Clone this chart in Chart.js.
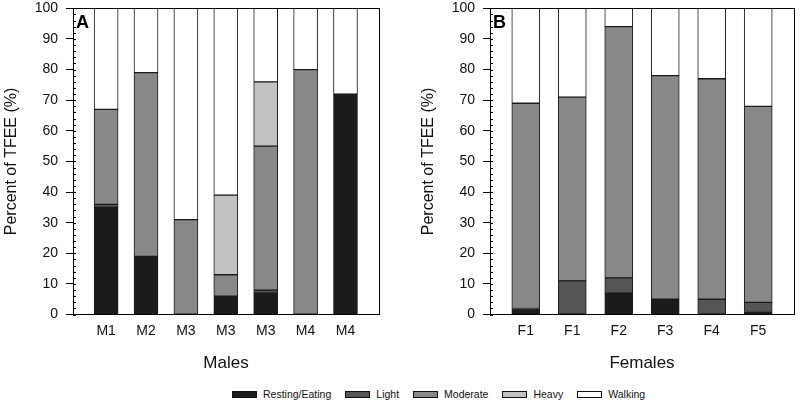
<!DOCTYPE html>
<html>
<head>
<meta charset="utf-8">
<script src="https://cdn.jsdelivr.net/npm/chart.js@4.4.1/dist/chart.umd.min.js"></script>
<style>
  html, body { margin: 0; padding: 0; background: #fff; }
  #wrap { position: relative; width: 800px; height: 402px; overflow: hidden; font-family: "Liberation Sans", Arial, sans-serif; }
  .cv { position: absolute; top: 0; }
  #legend { position: absolute; top: 388px; left: 232px; display: flex; align-items: center; font-size: 10.5px; color: #111; white-space: nowrap; }
  #legend .item { display: flex; align-items: center; margin-right: 14px; }
  #legend .box { width: 23px; height: 5px; border: 1px solid #111; margin-right: 6px; }
</style>
</head>
<body>
<div id="wrap">
  <canvas id="chartA" class="cv" width="400" height="380" style="left:0px"></canvas>
  <canvas id="chartB" class="cv" width="383" height="380" style="left:417px"></canvas>
  <div id="legend"></div>
</div>
<script>
// ---- data ----
const seriesNames = ["Resting/Eating", "Light", "Moderate", "Heavy", "Walking"];
const seriesColors = ["#1b1b1b", "#555555", "#888888", "#c2c2c2", "#ffffff"];

const maleCategories = ["M1", "M2", "M3", "M3", "M3", "M4", "M4"];
const maleResting  = [35, 19, 0, 6, 7, 0, 72];
const maleLight    = [1, 0, 0, 0, 1, 0, 0];
const maleModerate = [31, 60, 31, 7, 47, 80, 0];
const maleHeavy    = [0, 0, 0, 26, 21, 0, 0];
const maleWalking  = [33, 21, 69, 61, 24, 20, 28];

const femaleCategories = ["F1", "F1", "F2", "F3", "F4", "F5"];
const femaleResting  = [2, 0, 7, 5, 0, 1];
const femaleLight    = [0, 11, 5, 0, 5, 3];
const femaleModerate = [67, 60, 82, 73, 72, 64];
const femaleHeavy    = [0, 0, 0, 0, 0, 0];
const femaleWalking  = [31, 29, 6, 22, 23, 32];

const yTicks = [0, 10, 20, 30, 40, 50, 60, 70, 80, 90, 100];

// ---- helpers ----
const FONT = "'Liberation Sans', Arial, sans-serif";
const TXT = "#111";

const panelPlugin = {
  id: 'panelDeco',
  afterDatasetsDraw(chart, args, opts) {
    const {ctx, chartArea: a} = chart;
    const y = chart.scales.y;
    ctx.save();
    ctx.strokeStyle = '#000';
    ctx.lineWidth = 1;
    // minor ticks (inside)
    for (let v = 0; v <= 100; v += 2) {
      const py = Math.round(y.getPixelForValue(v)) + 0.5;
      ctx.beginPath();
      ctx.moveTo(a.left, py);
      ctx.lineTo(a.left + 3, py);
      ctx.stroke();
    }
    // frame
    ctx.strokeRect(Math.round(a.left) + 0.5, Math.round(a.top) + 0.5, Math.round(a.right - a.left), Math.round(a.bottom - a.top));
    // panel letter
    ctx.fillStyle = '#000';
    ctx.font = "bold 18px " + FONT;
    ctx.textBaseline = 'alphabetic';
    ctx.textAlign = 'left';
    ctx.fillText(opts.letter, a.left + 3, a.top + 20);
    ctx.restore();
  }
};

function makeChart(id, cats, series, xTitle, letter, xMin, xMax, barW, padRight) {
  const datasets = series.map((vals, k) => ({
    label: seriesNames[k],
    data: vals.map((v, i) => ({x: i, y: v})),
    backgroundColor: seriesColors[k],
    borderColor: '#1a1a1a',
    borderWidth: 1,
    borderSkipped: false,
    barThickness: barW,
    grouped: false
  }));
  return new Chart(document.getElementById(id), {
    type: 'bar',
    data: { datasets },
    options: {
      responsive: false,
      animation: false,
      events: [],
      layout: { padding: { top: 0, right: padRight, left: 0, bottom: 0 } },
      plugins: {
        legend: { display: false },
        tooltip: { enabled: false },
        panelDeco: { letter }
      },
      scales: {
        x: {
          type: 'linear',
          offset: false,
          min: xMin, max: xMax,
          afterBuildTicks: (s) => { s.ticks = cats.map((c, i) => ({ value: i })); },
          afterFit: (s) => { s.height = 380 - 314.6; s.paddingLeft = 0; s.paddingRight = 0; },
          ticks: {
            autoSkip: false, maxRotation: 0,
            callback: (v) => cats[v] !== undefined ? cats[v] : '',
            font: { family: FONT, size: 14 }, color: TXT, padding: 8
          },
          grid: { display: false, drawTicks: false, offset: false },
          border: { display: true, color: '#000' },
          title: { display: true, text: xTitle, font: { family: FONT, size: 17 }, color: TXT, padding: { top: 0, bottom: 6 } }
        },
        y: {
          stacked: true,
          min: 0, max: 100,
          afterBuildTicks: (s) => { s.ticks = yTicks.map(v => ({ value: v })); },
          afterFit: (s) => { s.width = 73; s.paddingTop = 8.3; s.paddingBottom = 0; },
          ticks: { font: { family: FONT, size: 14 }, color: TXT, padding: 8 },
          grid: { display: true, drawOnChartArea: false, drawTicks: true, tickLength: 7, color: '#000' },
          border: { display: true, color: '#000' },
          title: { display: true, text: 'Percent of TFEE (%)', font: { family: FONT, size: 16 }, color: TXT, padding: { top: 2, bottom: 0 } }
        }
      }
    },
    plugins: [panelPlugin]
  });
}

makeChart('chartA', maleCategories,
  [maleResting, maleLight, maleModerate, maleHeavy, maleWalking],
  'Males', 'A', -0.83, 6.84, 24, 21);
makeChart('chartB', femaleCategories,
  [femaleResting, femaleLight, femaleModerate, femaleHeavy, femaleWalking],
  'Females', 'B', -0.77, 5.77, 28, 6);

// HTML legend
const leg = document.getElementById('legend');
seriesNames.forEach((n, k) => {
  const it = document.createElement('div');
  it.className = 'item';
  const b = document.createElement('span');
  b.className = 'box';
  b.style.background = seriesColors[k];
  const t = document.createElement('span');
  t.textContent = n;
  it.appendChild(b); it.appendChild(t);
  leg.appendChild(it);
});
</script>
</body>
</html>
